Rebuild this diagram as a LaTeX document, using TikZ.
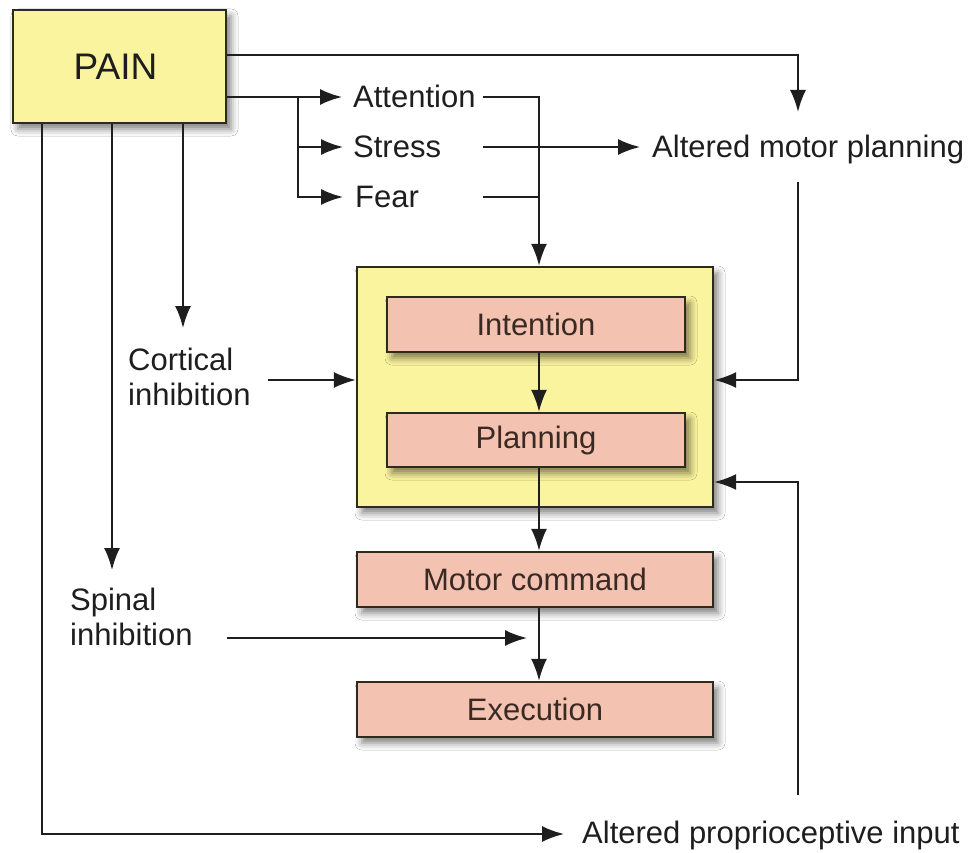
\documentclass[tikz,border=0pt]{standalone}
\usepackage{fontspec}
\setmainfont{Liberation Sans}
\usetikzlibrary{arrows.meta,shadows.blur,calc}
\definecolor{boxyellow}{HTML}{FBF49E}
\definecolor{boxpink}{HTML}{F3C2B0}
\definecolor{edgec}{HTML}{2E2A1C}
\definecolor{txt}{HTML}{1E1E1E}
\definecolor{boxtxt}{HTML}{3A2A24}
\begin{document}
\begin{tikzpicture}[x=1pt,y=-1pt,
  arr/.style={draw=txt, line width=2pt, -{Latex[length=22pt,width=16pt]}},
  ln/.style={draw=txt, line width=2pt},
  shad/.style={blur shadow={shadow xshift=5pt, shadow yshift=-6pt, shadow blur radius=7pt, shadow opacity=50}},
  ybox/.style={draw=edgec, line width=2.4pt, fill=boxyellow, inner sep=0pt, shad},
  pbox/.style={draw=edgec, line width=2.4pt, fill=boxpink, inner sep=0pt, text=boxtxt, font=\fontsize{31}{35}\selectfont, shad},
  lab/.style={inner sep=0pt, text=txt, font=\fontsize{31}{35}\selectfont, text height=22pt, text depth=0pt},
  twolab/.style={inner sep=0pt, text=txt, font=\fontsize{31}{35}\selectfont, align=left, anchor=north west},
]
\useasboundingbox (0,0) rectangle (975,853);
\fill[white] (0,0) rectangle (975,853);

% boxes
\node[ybox, minimum width=213pt, minimum height=113pt, text=txt] (pain) at (119.5,66.5) {\fontsize{37}{40}\selectfont PAIN\hspace*{8pt}};
\node[ybox, minimum width=356pt, minimum height=240pt] (core) at (535,387) {};
\node[pbox, minimum width=298pt, minimum height=55pt] (int) at (536,324.5) {Intention};
\node[pbox, minimum width=298pt, minimum height=54pt] (plan) at (536,440) {Planning};
\node[pbox, minimum width=356pt, minimum height=55pt] (mot) at (535,579.5) {Motor command};
\node[pbox, minimum width=356pt, minimum height=55pt] (exe) at (535,709.5) {Execution};

% labels
\node[lab, anchor=west] (attn) at (353,97) {Attention};
\node[lab, anchor=west] (stress) at (353,147) {Stress};
\node[lab, anchor=west] (fear) at (355,197) {Fear};
\node[lab, anchor=west] (amp) at (652,147) {Altered motor planning};
\node[lab, anchor=west] (api) at (582,832) {Altered proprioceptive input};
\node[twolab] (cort) at (128,348) {Cortical\\inhibition};
\node[twolab] (spin) at (70,588) {Spinal\\inhibition};

% helper coordinates
\coordinate (y55) at (0,55);
\coordinate (br) at (298,97);
\coordinate (lx) at (483,0);
\coordinate (vx) at (539,0);
\coordinate (ampin) at (798,112);
\coordinate (ampout) at (798,182);
\coordinate (c380) at (0,380);
\coordinate (c482) at (0,482);
\coordinate (cstart) at (268,380);
\coordinate (sstart) at (227,638);
\coordinate (send) at (527,638);
\coordinate (x42) at (42,0);
\coordinate (x112) at (112,0);
\coordinate (x183) at (183,0);
\coordinate (cortin) at (183,328);
\coordinate (spinin) at (112,570);
\coordinate (apiout) at (798,795);

% connectors from PAIN
\draw[arr] (pain.east |- y55) -| (ampin);
\draw[arr] (pain.east |- attn) -- ([xshift=-11pt]attn.west);
\draw[arr] (br) |- ([xshift=-10pt]stress.west);
\draw[arr] (br) |- ([xshift=-12pt]fear.west);
\draw[arr] (pain.south -| x183) -- (cortin);
\draw[arr] (pain.south -| x112) -- (spinin);
\draw[arr] (pain.south -| x42) |- ([xshift=-18pt,yshift=-2pt]api.west);

% attention / stress / fear
\draw[arr] (attn.west -| lx) -| (core.north -| vx);
\draw[arr] (stress.west -| lx) -- ([xshift=-12pt]amp.west);
\draw[ln] (fear.west -| lx) -- (fear.west -| vx);

% altered motor planning / proprioceptive feedback
\draw[arr] (ampout) |- (core.east |- c380);
\draw[arr] (apiout) |- (core.east |- c482);

% inhibitions
\draw[arr] (cstart) -- (core.west |- c380);
\draw[arr] (sstart) -- (send);

% core chain
\draw[arr] (int.south -| vx) -- (plan.north -| vx);
\draw[arr] (plan.south -| vx) -- (mot.north -| vx);
\draw[arr] (mot.south -| vx) -- (exe.north -| vx);
\end{tikzpicture}
\end{document}
